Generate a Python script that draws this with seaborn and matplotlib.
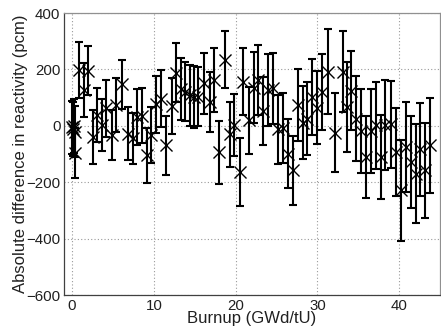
import numpy as np
import pandas as pd
import seaborn as sns
import matplotlib
matplotlib.use("Agg")
import matplotlib.pyplot as plt

# Burnup steps (GWd/tU)
burnup = [0.0, 0.1, 0.2, 0.3, 0.4,
          0.8, 1.4, 2.0, 2.6, 3.1, 3.6, 4.2, 4.9, 5.4, 6.1,
          6.8, 7.4, 7.9, 8.5, 9.2, 9.7, 10.3, 10.9, 11.5, 12.2,
          12.7, 13.3, 13.8, 14.4, 14.9, 15.4, 16.1, 16.8, 17.4, 18.0,
          18.7, 19.3, 19.8, 20.5, 20.9, 21.6, 22.2, 22.7, 23.3, 23.9,
          24.6, 25.2, 25.8, 26.4, 27.0, 27.6, 28.2, 28.7, 29.3, 29.9,
          30.5, 31.3, 32.1, 33.1, 33.6, 34.1, 34.7, 35.3, 35.9, 36.6,
          37.2, 37.8, 38.3, 39.0, 39.6, 40.2, 40.8, 41.4, 42.0, 42.6,
          43.2, 43.8]

# Reactivity difference (pcm)
diff_pcm = [-5, -12, 0, -20, -96,
            198, 127, 196, -39, 38, 2, 62, -33, 74, 148,
            -27, -44, 32, 36, -104, -33, 76, 97, -69, 70,
            188, 130, 121, 109, 103, 103, 151, 85, 163, -93,
            235, -30, 2, -164, 157, 20, 136, 163, 53, 127,
            133, -12, -8, -98, -158, 74, 12, 26, 103, 65,
            121, 192, -24, 192, 68, 124, 26, -18, -110, -18,
            2, -110, 2, 5, -93, -229, -75, -128, -169, -83,
            -158, -69]

# Statistical uncertainty (pcm)
sigma_pcm = [95, 95, 95, 92, 90,
             100, 95, 88, 95, 95, 92, 100, 88, 95, 87,
             95, 90, 100, 97, 98, 100, 100, 102, 105, 100,
             105, 110, 105, 108, 110, 105, 108, 105, 112, 112,
             102, 115, 110, 120, 120, 118, 125, 125, 120, 128,
             125, 122, 125, 122, 122, 128, 130, 128, 135, 130,
             135, 150, 140, 143, 160, 140, 150, 150, 145, 150,
             155, 150, 160, 155, 155, 178, 160, 162, 175, 165,
             170, 168]

df = pd.DataFrame({"burnup": burnup, "diff": diff_pcm, "sigma": sigma_pcm})

sns.set_style("white")
plt.rcParams["font.family"] = ["Liberation Sans", "DejaVu Sans"]

fig = plt.figure(figsize=(4.41, 3.35), dpi=100)
ax = fig.add_axes([0.145, 0.119, 0.853, 0.842])

ax.errorbar(df["burnup"], df["diff"], yerr=df["sigma"], fmt="none",
            ecolor="black", elinewidth=1.5, capsize=3.0, capthick=1.5,
            zorder=2)
sns.scatterplot(data=df, x="burnup", y="diff", marker="x", s=75,
                color="black", linewidth=1.0, ax=ax, zorder=3, legend=False)

ax.set_xlim(-1, 45)
ax.set_ylim(-600, 400)
ax.set_xticks([0, 10, 20, 30, 40])
ax.set_yticks([-600, -400, -200, 0, 200, 400])
ax.grid(True, linestyle=(0, (1, 2)), color="#9a9a9a", linewidth=0.8)
ax.set_axisbelow(True)

for side, sp in ax.spines.items():
    sp.set_visible(True)
    sp.set_color("#404040" if side in ("left", "bottom") else "#909090")
    sp.set_linewidth(0.9)

ax.tick_params(direction="in", length=3, width=0.8, labelsize=10.8,
               colors="#202020", pad=2.5)
ax.set_xlabel("Burnup (GWd/tU)", fontsize=12, labelpad=-1, color="#202020")
ax.set_ylabel("Absolute difference in reactivity (pcm)", fontsize=12,
              labelpad=-1, color="#202020")

fig.savefig("out.png", dpi=100)
